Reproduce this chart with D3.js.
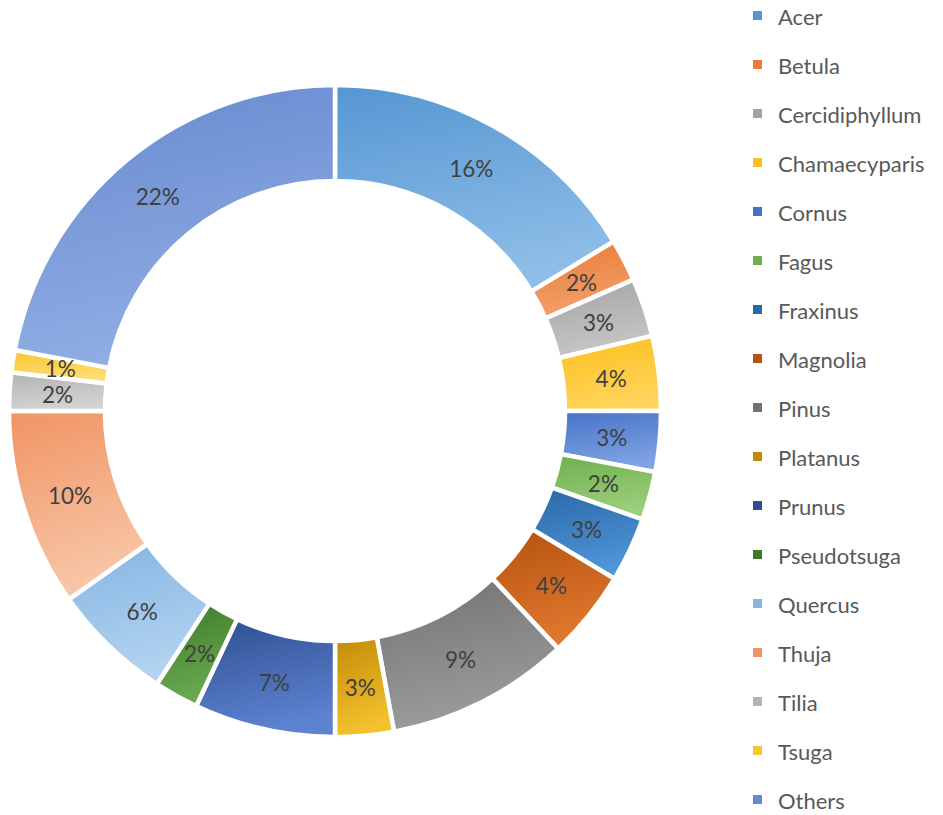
<!DOCTYPE html>
<html>
<head>
<meta charset="utf-8">
<script src="https://cdn.jsdelivr.net/npm/d3@7"></script>
<style>
  html, body { margin: 0; padding: 0; background: #ffffff; }
  svg { display: block; }
</style>
</head>
<body>
<svg id="chart" width="943" height="815"></svg>
<script>
const categories = ["Acer","Betula","Cercidiphyllum","Chamaecyparis","Cornus","Fagus","Fraxinus","Magnolia","Pinus","Platanus","Prunus","Pseudotsuga","Quercus","Thuja","Tilia","Tsuga","Others"];
const values = [16.3, 2.1, 2.9, 3.7, 3.0, 2.4, 3.2, 4.4, 9.1, 2.9, 7.0, 2.2, 6.0, 9.8, 1.9, 1.1, 22.0];
const colorsDark = ["#5596d3","#ea7a34","#a3a3a3","#fcbf1c","#4673c6","#6fae4c","#2a67a8","#b5520f","#727272","#c28a05","#2d4f91","#3f7a2c","#84b5e3","#f09463","#b3b3b3","#f9c631","#6688cf"];
const colorsLight = ["#8ebde7","#f2a06c","#c6c6c6","#ffd45a","#7fa3e3","#9ccf7d","#4f95d7","#e0782e","#9c9c9c","#f4c22e","#5d82cf","#6aaa50","#b3d3f0","#f8c6a7","#d3d3d3","#ffdd75","#90aee4"];

const svg = d3.select("#chart");
const cx = 335, cy = 411, rOuter = 326, rInner = 230;

const defs = svg.append("defs");
categories.forEach((c, i) => {
  const g = defs.append("linearGradient")
    .attr("id", "grad" + i)
    .attr("x1", "0").attr("y1", "0").attr("x2", "0.25").attr("y2", "1");
  g.append("stop").attr("offset", "0%").attr("stop-color", colorsDark[i]);
  g.append("stop").attr("offset", "100%").attr("stop-color", colorsLight[i]);
});

const data = categories.map((c, i) => ({ name: c, value: values[i], i }));
const total = d3.sum(values);
const pie = d3.pie().value(d => d.value).sort(null);
const arc = d3.arc().innerRadius(rInner).outerRadius(rOuter);
const labelArc = d3.arc().innerRadius((rInner + rOuter) / 2).outerRadius((rInner + rOuter) / 2);
const fmt = d3.format(".0%");

const g = svg.append("g").attr("transform", `translate(${cx},${cy})`);
const arcs = pie(data);
g.selectAll("path.slice").data(arcs).enter().append("path")
  .attr("class", "slice")
  .attr("d", arc)
  .attr("fill", d => `url(#grad${d.data.i})`)
  .attr("stroke", "#ffffff")
  .attr("stroke-width", 4.5)
  .attr("stroke-linejoin", "miter");

g.selectAll("text.lbl").data(arcs).enter().append("text")
  .attr("class", "lbl")
  .attr("transform", d => `translate(${labelArc.centroid(d)})`)
  .attr("text-anchor", "middle")
  .attr("dominant-baseline", "central")
  .attr("font-family", "Lato, 'Open Sans', sans-serif")
  .attr("font-size", 22.5)
  .attr("fill", "#404040")
  .text(d => fmt(d.data.value / total));

// Legend
const legendY = d3.scalePoint().domain(categories).range([15, 799]);
const lg = svg.append("g");
const items = lg.selectAll("g.item").data(data).enter().append("g")
  .attr("class", "item")
  .attr("transform", d => `translate(0,${legendY(d.name)})`);
items.append("rect")
  .attr("x", 753).attr("y", -4).attr("width", 9).attr("height", 9)
  .attr("fill", d => colorsDark[d.i]);
items.append("text")
  .attr("x", 778).attr("y", 1)
  .attr("dominant-baseline", "central")
  .attr("font-family", "Lato, 'Open Sans', sans-serif")
  .attr("font-size", 22)
  .attr("fill", "#595959")
  .text(d => d.name);
</script>
</body>
</html>
